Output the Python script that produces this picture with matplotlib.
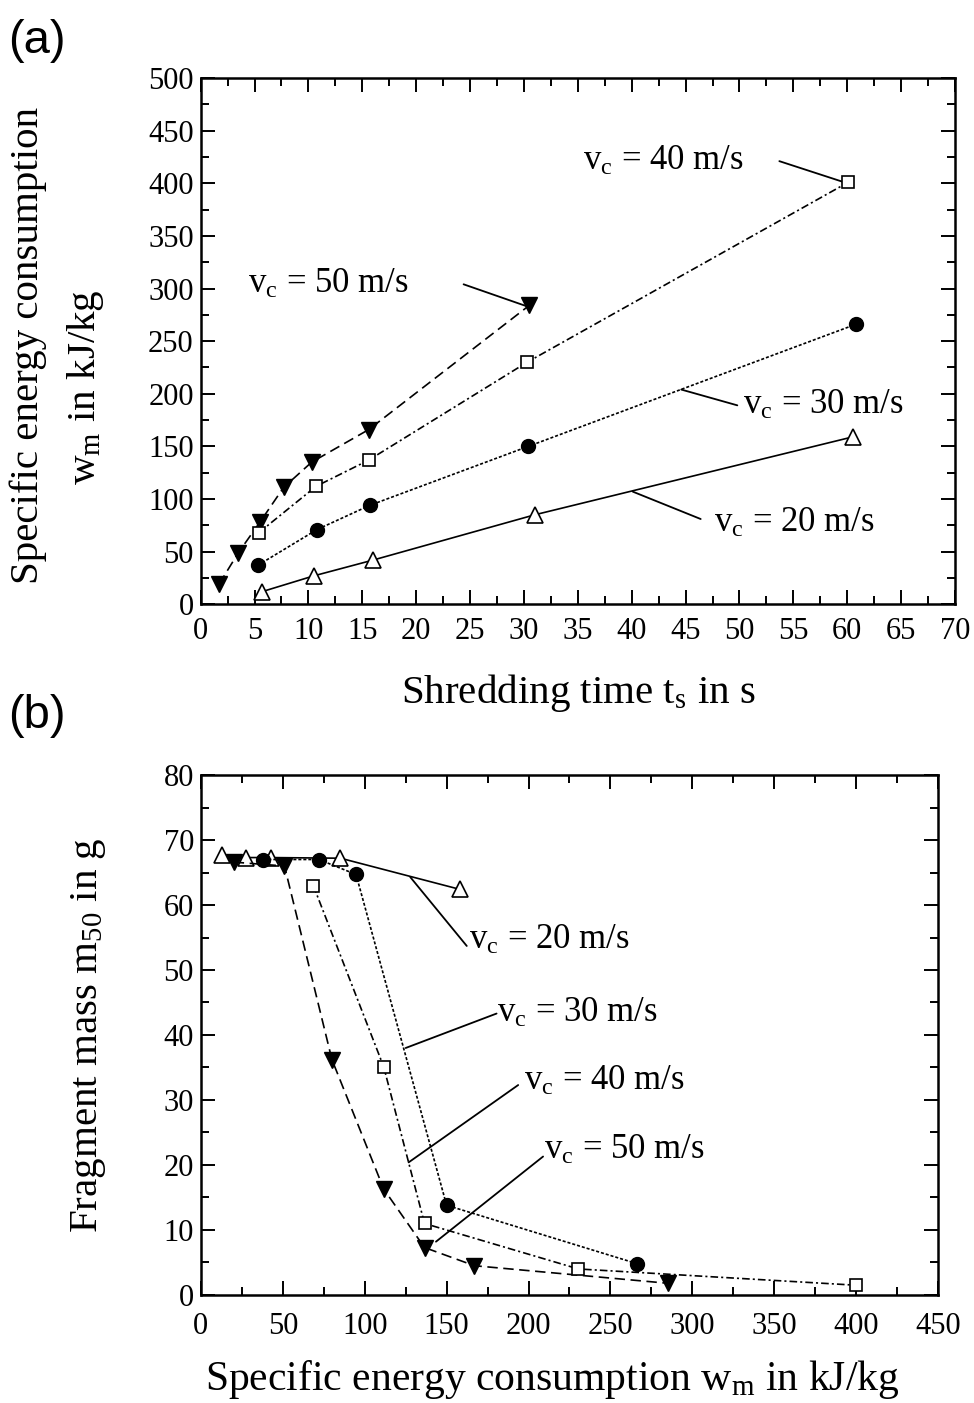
import matplotlib
matplotlib.use('Agg')
import matplotlib.pyplot as plt
from matplotlib.ticker import MultipleLocator

plt.rcParams['font.family'] = ['Liberation Serif', 'DejaVu Serif']
plt.rcParams['mathtext.fontset'] = 'custom'
plt.rcParams['mathtext.rm'] = 'Liberation Serif'
plt.rcParams['mathtext.it'] = 'Liberation Serif:italic'
plt.rcParams['mathtext.bf'] = 'Liberation Serif:bold'
plt.rcParams['lines.scale_dashes'] = False

# ---------------- data ----------------
speed_labels = ['v$_\\mathrm{c}$ = 20 m/s', 'v$_\\mathrm{c}$ = 30 m/s',
                'v$_\\mathrm{c}$ = 40 m/s', 'v$_\\mathrm{c}$ = 50 m/s']

# panel (a): shredding time t_s [s] vs specific energy w_m [kJ/kg]
ts_20 = [5.7, 10.5, 16.0, 31.0, 60.5]
wm_20 = [12, 27, 42, 85, 159]
ts_30 = [5.3, 10.8, 15.7, 30.4, 60.8]
wm_30 = [37, 71, 94, 150, 266]
ts_40 = [5.4, 10.7, 15.6, 30.3, 60.1]
wm_40 = [68, 112, 137, 230, 401]
ts_50 = [1.7, 3.5, 5.5, 7.7, 10.3, 15.6, 30.5]
wm_50 = [19, 49, 78, 111, 135, 166, 284]

# panel (b): specific energy w_m [kJ/kg] vs fragment mass m50 [g]
wmb_20 = [12.6, 27.4, 42.6, 85.2, 158.2]
m50_20 = [67.7, 67.3, 67.3, 67.2, 62.4]
wmb_30 = [38.1, 72.0, 94.7, 150.0, 266.5]
m50_30 = [67.0, 67.0, 64.7, 13.8, 4.8]
wmb_40 = [68.6, 111.6, 136.5, 230.5, 400.0]
m50_40 = [63.0, 35.1, 11.0, 4.0, 1.5]
wmb_50 = [20.0, 51.0, 80.0, 111.6, 136.5, 167.0, 285.0]
m50_50 = [66.6, 66.0, 36.2, 16.3, 7.3, 4.5, 1.8]

# ---------------- styles ----------------
LW = 1.2
sty20 = dict(color='black', lw=LW, ls='-', marker='^', ms=11.5, mfc='white',
             mec='black', mew=1.2, zorder=3)
sty50 = dict(color='black', lw=LW, ls=(0, (7.5, 4)), marker='v', ms=11.5, mfc='black',
             mec='black', zorder=4)
sty30 = dict(color='black', lw=LW, ls=(0, (2.2, 1.4)), marker='o', ms=10, mfc='black',
             mec='black', zorder=5)
sty40 = dict(color='black', lw=LW, ls=(0, (5.5, 2.2, 1.5, 2.2)), marker='s', ms=9,
             mfc='white', mec='black', mew=1.2, zorder=6)

TICK_FS = 22
LABEL_FS = 29.5
ANN_FS = 25

fig = plt.figure(figsize=(9.74, 14.03), dpi=100)
ax1 = fig.add_axes([0.206, 0.5693, 0.9805 - 0.206, 0.9444 - 0.5693])
ax2 = fig.add_axes([0.2063, 0.0770, 0.963 - 0.2063, 0.4476 - 0.0770])


def style_axes(ax, xmaj, xmin, ymaj, ymin):
    ax.xaxis.set_major_locator(MultipleLocator(xmaj))
    ax.xaxis.set_minor_locator(MultipleLocator(xmin))
    ax.yaxis.set_major_locator(MultipleLocator(ymaj))
    ax.yaxis.set_minor_locator(MultipleLocator(ymin))
    ax.tick_params(which='both', direction='in', top=True, right=True, width=1.4)
    ax.tick_params(which='major', length=10)
    ax.tick_params(which='minor', length=6)
    ax.tick_params(axis='x', which='major', labelsize=TICK_FS, pad=9)
    ax.tick_params(axis='y', which='major', labelsize=TICK_FS, pad=5)
    for s in ax.spines.values():
        s.set_linewidth(1.8)


# ---------------- panel (a) ----------------
ax1.plot(ts_20, wm_20, **sty20)
ax1.plot(ts_50, wm_50, **sty50)
ax1.plot(ts_30, wm_30, **sty30)
ax1.plot(ts_40, wm_40, **sty40)
ax1.set_xlim(0, 70)
ax1.set_ylim(0, 500)
style_axes(ax1, 5, 2.5, 50, 25)
ax1.set_xlabel('Shredding time t$_\\mathrm{s}$ in s', fontsize=LABEL_FS, labelpad=19)

# callouts (label text pos, line start, line end) in data coords
ann_a = [
    (speed_labels[3], (4.4, 296), (24.4, 304), (30.3, 283)),
    (speed_labels[2], (35.5, 413), (53.7, 421), (59.7, 401)),
    (speed_labels[1], (50.3, 181), (44.6, 204), (49.8, 189)),
    (speed_labels[0], (47.6, 69), (40.1, 107), (46.4, 81)),
]
for txt, tpos, p0, p1 in ann_a:
    ax1.annotate('', xy=p1, xytext=p0,
                 arrowprops=dict(arrowstyle='-', lw=1.3, color='black',
                                 shrinkA=0, shrinkB=0))
    ax1.text(tpos[0], tpos[1], txt, fontsize=ANN_FS, ha='left', va='baseline')

# ---------------- panel (b) ----------------
ax2.plot(wmb_20, m50_20, **sty20)
ax2.plot(wmb_50, m50_50, **sty50)
ax2.plot(wmb_30, m50_30, **sty30)
ax2.plot(wmb_40, m50_40, **sty40)
ax2.set_xlim(0, 450)
ax2.set_ylim(0, 80)
style_axes(ax2, 50, 25, 10, 5)
ax2.tick_params(axis='x', which='major', pad=12)
ax2.set_xlabel('Specific energy consumption w$_\\mathrm{m}$ in kJ/kg',
               fontsize=LABEL_FS + 0.5)
ax2.xaxis.set_label_coords(0.476, -0.122)
ax2.set_ylabel('Fragment mass m$_\\mathrm{50}$ in g', fontsize=LABEL_FS, labelpad=40)

ann_b = [
    (speed_labels[0], (163.5, 53.2), (127.8, 64.3), (162.3, 53.7)),
    (speed_labels[1], (180.5, 42.0), (125.0, 38.0), (180.5, 43.3)),
    (speed_labels[2], (197.5, 31.6), (126.8, 20.4), (193.7, 32.3)),
    (speed_labels[3], (209.5, 20.9), (143.5, 8.2), (208.9, 21.3)),
]
for txt, tpos, p0, p1 in ann_b:
    ax2.annotate('', xy=p1, xytext=p0,
                 arrowprops=dict(arrowstyle='-', lw=1.3, color='black',
                                 shrinkA=0, shrinkB=0))
    ax2.text(tpos[0], tpos[1], txt, fontsize=ANN_FS, ha='left', va='baseline')

# y label of (a): two lines
fig.text(0.0287, 0.754, 'Specific energy consumption', rotation=90,
         fontsize=LABEL_FS, ha='center', va='center')
fig.text(0.0873, 0.724, 'w$_\\mathrm{m}$ in kJ/kg', rotation=90,
         fontsize=LABEL_FS, ha='center', va='center')

# panel letters
fig.text(0.008, 0.971, '(a)', fontsize=34, family='Liberation Sans',
         ha='left', va='center')
fig.text(0.008, 0.490, '(b)', fontsize=34, family='Liberation Sans',
         ha='left', va='center')

fig.savefig('out.png', dpi=100)
